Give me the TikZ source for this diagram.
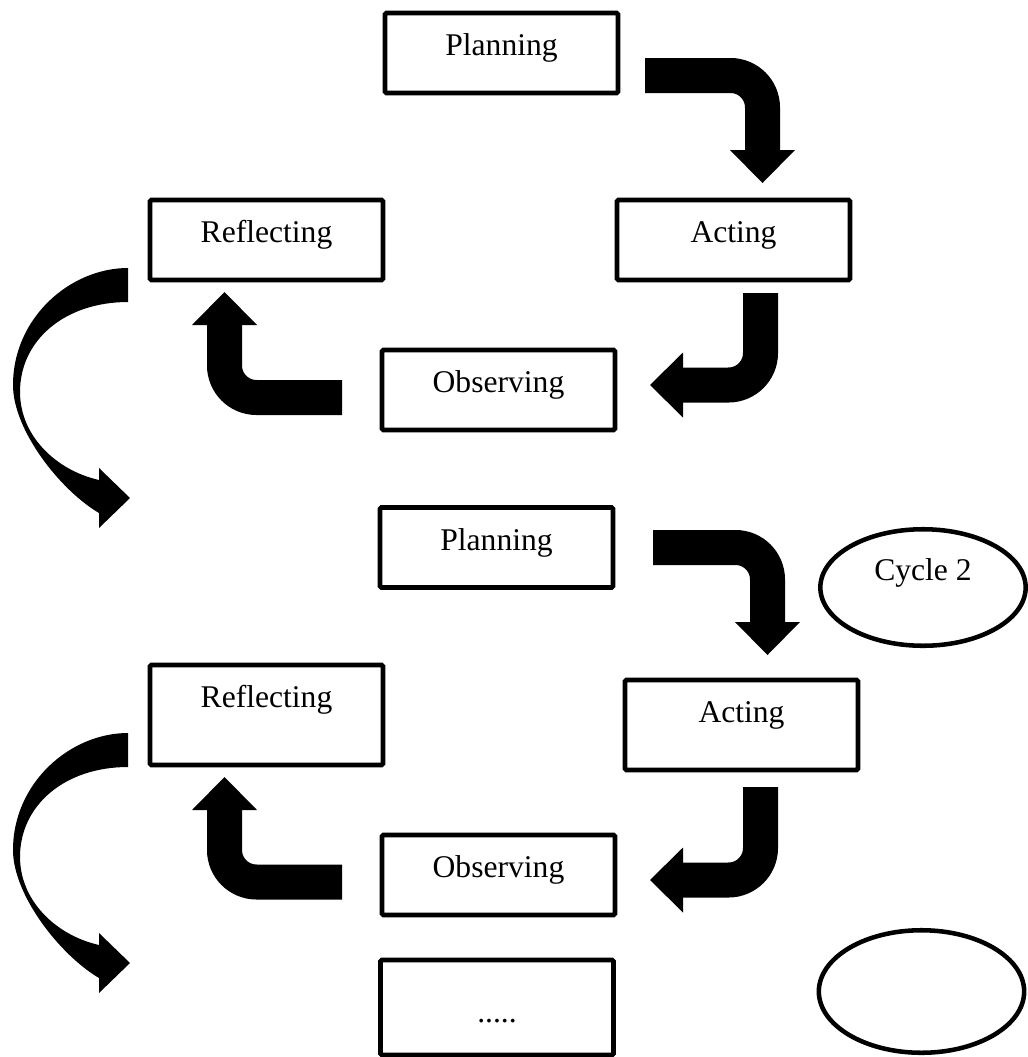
\documentclass[tikz,border=0pt]{standalone}
\usepackage{fontspec}
\setmainfont{Liberation Serif}
\usetikzlibrary{arrows.meta,shapes.geometric}
\begin{document}
\begin{tikzpicture}[x=0.75pt,y=-0.75pt,
  stagebox/.style={draw=black, line width=3.4pt, rounded corners=1pt,
    minimum width=174.75pt, minimum height=60pt, inner sep=0pt,
    text height=15pt, text depth=11.25pt, font=\fontsize{23.7}{28}\selectfont},
  cyclebox/.style={ellipse, draw=black, line width=3.4pt, inner sep=0pt,
    minimum width=154pt, minimum height=87.4pt, font=\fontsize{23.7}{28}\selectfont},
  bigarrow/.style={line width=26.25pt, rounded corners=24pt,
    -{Triangle[width=48.75pt,length=24.75pt,line width=0pt]}},
  curvedarrow/.pic={
    \fill[black] (128,268) .. controls (70,268) and (13,318) .. (13,385)
      .. controls (13,430) and (60,490) .. (99,513)
      -- (99,528) -- (130,498) -- (99,468) -- (99,480)
      .. controls (55,470) and (20,435) .. (20,392)
      .. controls (20,340) and (65,302) .. (128,302) -- cycle;
  }]
\useasboundingbox (0,0) rectangle (1028,1057);

% cycle 1
\node[stagebox] (p1) at (501.5,53) {Planning};
\node[stagebox] (r1) at (266.5,240) {Reflecting};
\node[stagebox] (a1) at (733.5,240) {Acting};
\node[stagebox] (o1) at (498.5,390) {Observing};

% cycle 2
\node[stagebox] (p2) at (496.5,547.5) {Planning};
\node[stagebox, minimum height=75pt, text depth=26.25pt] (r2) at (266.5,715) {Reflecting};
\node[stagebox, minimum height=67.5pt, text depth=18.75pt] (a2) at (741.5,725) {Acting};
\node[stagebox] (o2) at (498.5,875) {Observing};
\node[stagebox, minimum height=71.25pt, text height=25pt, text depth=3.25pt] (p3) at (497,1007.5) {.....};

\node[cyclebox, text height=12pt, text depth=23.25pt] (c2) at (923,587.5) {Cycle 2};
\node[cyclebox, minimum height=91.9pt] (c3) at (921.5,991.5) {};

% connectors cycle 1
\coordinate (s1) at (645,75.5);   \coordinate (e1) at (762.5,183);
\coordinate (s2) at (760.5,293);  \coordinate (e2) at (650,385);
\coordinate (s3) at (342,397.5);  \coordinate (e3) at (224.5,292);
\draw[bigarrow] (s1) -| (e1);
\draw[bigarrow] (s2) |- (e2);
\draw[bigarrow] (s3) -| (e3);
\pic at (0,0) {curvedarrow};

% connectors cycle 2
\coordinate (s5) at (653,547.5);  \coordinate (e5) at (767.5,655);
\coordinate (s6) at (760.5,787);  \coordinate (e6) at (650,880);
\coordinate (s7) at (342,882);    \coordinate (e7) at (224.5,777);
\draw[bigarrow] (s5) -| (e5);
\draw[bigarrow] (s6) |- (e6);
\draw[bigarrow] (s7) -| (e7);
\pic at (0,465) {curvedarrow};
\end{tikzpicture}
\end{document}
